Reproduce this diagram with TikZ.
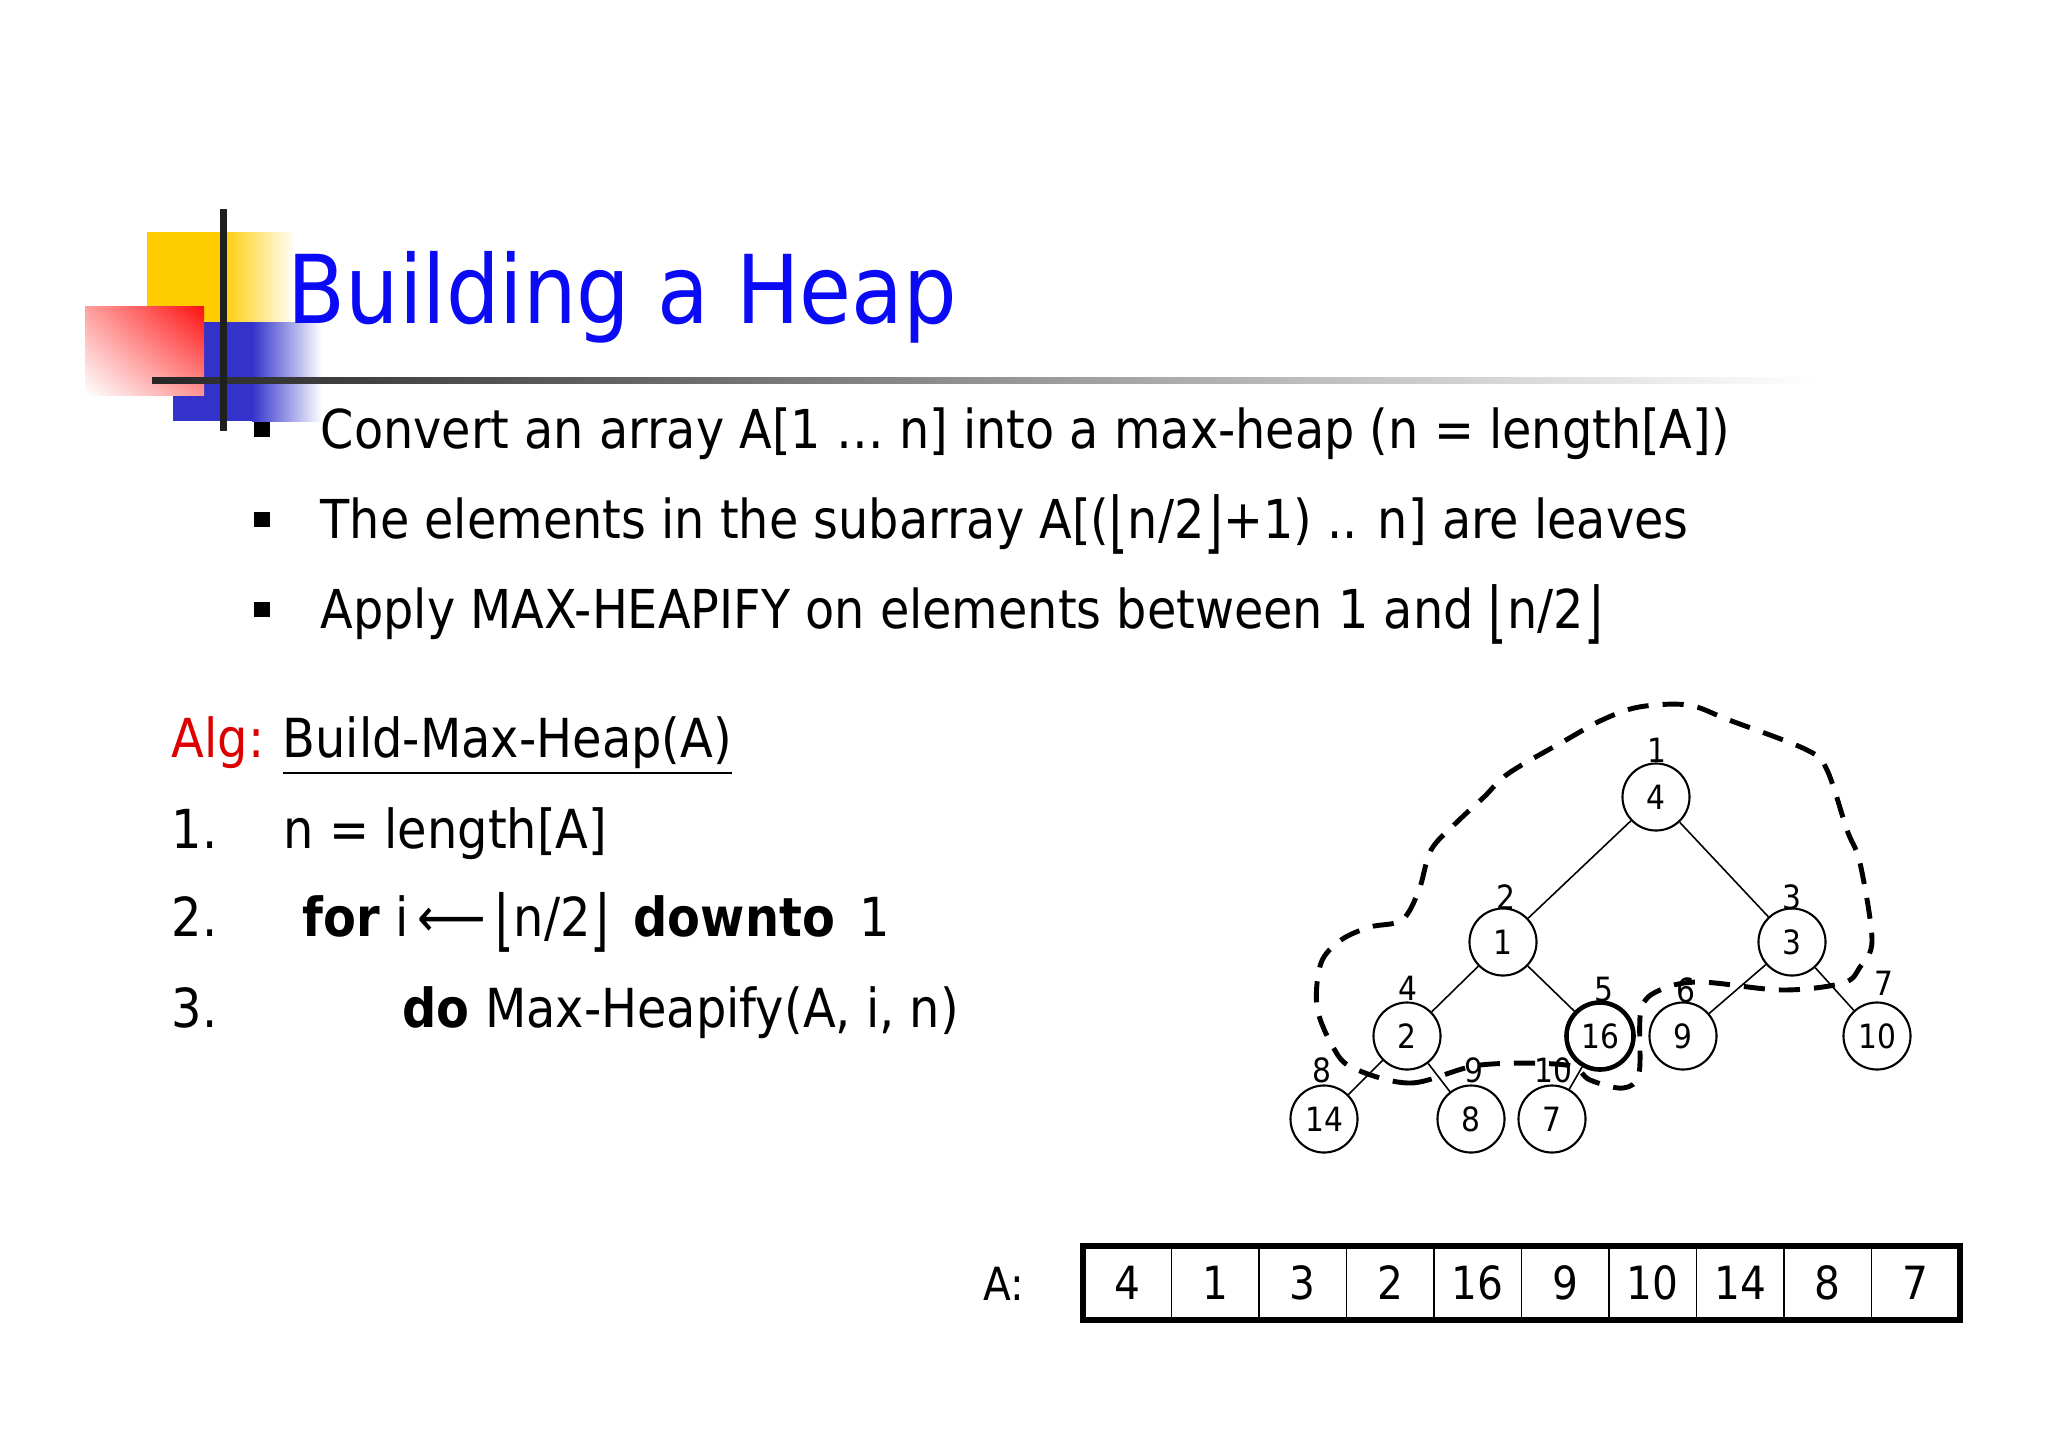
\documentclass[tikz,border=0pt]{standalone}
\usepackage{fontspec}
\usepackage{graphicx}
\usetikzlibrary{shadings}
\setmainfont{DejaVu Sans}[FakeStretch=0.89]
\definecolor{logoyellow}{HTML}{FFCC00}
\definecolor{logored}{HTML}{FF1010}
\definecolor{logoblue}{HTML}{3333CC}
\definecolor{titleblue}{HTML}{0A0AF5}
\definecolor{algred}{HTML}{DD0000}
\newcommand{\myLfl}{\raisebox{-0.25ex}{\scalebox{1}[1.25]{⌊}}}
\newcommand{\myRfl}{\raisebox{-0.25ex}{\scalebox{1}[1.25]{⌋}}}
\begin{document}
\begin{tikzpicture}[x=0.01cm,y=-0.01cm,
  txt/.style={inner sep=0pt,anchor=base west},
  titlefont/.style={font=\fontsize{27}{32}\selectfont},
  bodyfont/.style={font=\fontsize{15.25}{19}\selectfont},
  algfont/.style={font=\fontsize{15.3}{19}\selectfont},
  heapnode/.style={draw,circle,line width=0.6pt,minimum size=0.67cm,inner sep=0pt,font=\fontsize{9.5}{11}\selectfont},
  idx/.style={inner sep=0pt,font=\fontsize{9.5}{11}\selectfont},
  cell/.style={draw,line width=0.5pt,minimum width=0.875cm,minimum height=0.72cm,inner sep=0pt,font=\fontsize{13}{15}\selectfont},
  edge/.style={line width=0.45pt},
  bulletsq/.style={fill=black,inner sep=0pt,minimum size=0.15cm}
]
\useasboundingbox (0,0) rectangle (2048,1448);
\fill[white] (0,0) rectangle (2048,1448);

% ---- logo ----
\fill[logoyellow] (147,232) rectangle (222,322);
\shade[left color=logoyellow,right color=white] (222,232) rectangle (295,322);
\fill[logoblue] (173,322) rectangle (252,421);
\shade[left color=logoblue,right color=white] (252,322) rectangle (322,421);
\shade[upper right=logored,upper left=logored!40,lower right=logored!45,lower left=white] (85,306) rectangle (204,395);
\shade[left color=black!85,middle color=black!55,right color=white] (152,377) rectangle (1815,383);
\fill[black!88] (220,209) rectangle (227,431);

% ---- title ----
\node[txt,titlefont,text=titleblue] (title) at (287,323) {Building a Heap};

% ---- bullets ----
\node[bulletsq] (s1) at (262,429) {};
\node[bulletsq] (s2) at (262,519) {};
\node[bulletsq] (s3) at (262,609) {};
\node[txt,bodyfont] (b1) at (320,448) {Convert an array A[1 … n] into a max-heap (n = length[A])};
\node[txt,bodyfont] (b2) at (320,538) {The elements in the subarray A[(\myLfl n/2\myRfl+1) .. n] are leaves};
\node[txt,bodyfont] (b3) at (320,628) {Apply MAX-HEAPIFY on elements between 1 and \myLfl n/2\myRfl};

% ---- algorithm ----
\node[txt,algfont,text=algred] (alg) at (171,757) {Alg:};
\node[txt,algfont] (algname) at (282,757) {\underline{Build-Max-Heap(A)}};
\node[txt,algfont] (n1) at (171,848) {1.};
\node[txt,algfont] (l1) at (283,848) {n = length[A]};
\node[txt,algfont] (n2) at (171,936) {2.};
\node[txt,algfont] (l2) at (302,936) {\textbf{for} i\,⟵\,\myLfl n/2\myRfl\, \textbf{downto}\, 1};
\node[txt,algfont] (n3) at (171,1027) {3.};
\node[txt,algfont] (l3) at (402,1027) {\textbf{do} Max-Heapify(A, i, n)};

% ---- tree ----
\node[heapnode] (h1) at (1656,797) {4};
\node[heapnode] (h2) at (1503,942) {1};
\node[heapnode] (h3) at (1792,942) {3};
\node[heapnode] (h4) at (1407,1036) {2};
\node[heapnode,line width=1.3pt] (h5) at (1600,1036) {16};
\node[heapnode] (h6) at (1683,1036) {9};
\node[heapnode] (h7) at (1877,1036) {10};
\node[heapnode] (h8) at (1324,1119) {14};
\node[heapnode] (h9) at (1471,1119) {8};
\node[heapnode] (h10) at (1552,1119) {7};
\draw[edge] (h1) -- (h2);
\draw[edge] (h1) -- (h3);
\draw[edge] (h2) -- (h4);
\draw[edge] (h2) -- (h5);
\draw[edge] (h3) -- (h6);
\draw[edge] (h3) -- (h7);
\draw[edge] (h4) -- (h8);
\draw[edge] (h4) -- (h9);
\draw[edge] (h5) -- (h10);

\node[idx] (i1) at (1657,750) {1};
\node[idx] (i2) at (1506,897) {2};
\node[idx] (i3) at (1792,897) {3};
\node[idx] (i4) at (1408,988) {4};
\node[idx] (i5) at (1604,990) {5};
\node[idx] (i6) at (1686,990) {6};
\node[idx] (i7) at (1884,983) {7};
\node[idx] (i8) at (1322,1070) {8};
\node[idx] (i9) at (1474,1070) {9};
\node[idx] (i10) at (1553,1070) {10};

% dashed region
\draw[line width=1.4pt,dash pattern=on 6pt off 4pt]
  plot[smooth cycle,tension=0.55] coordinates {
  (1353,1068) (1411,1083) (1480,1065) (1566,1065) (1590,1080) (1623,1088)
  (1639,1073) (1641,1010) (1660,990) (1700,982) (1782,990) (1843,983)
  (1860,967) (1872,940) (1860,863) (1847,830) (1827,770) (1807,750)
  (1729,720) (1688,705) (1639,707) (1602,720) (1566,740) (1509,773)
  (1484,797) (1456,823) (1431,850) (1419,890) (1402,920) (1370,927)
  (1341,940) (1321,963) (1317,1007) (1333,1047)};

% ---- array ----
\node[txt,font=\fontsize{13}{15}\selectfont] (alab) at (983,1300) {A:};
\foreach \v [count=\i] in {4,1,3,2,16,9,10,14,8,7}
  \node[cell] (c\i) at ({1084+87.5*(\i-0.5)},1283) {\v};
\draw[line width=1.5pt] (c1.north west) rectangle (c10.south east);
\end{tikzpicture}
\end{document}
